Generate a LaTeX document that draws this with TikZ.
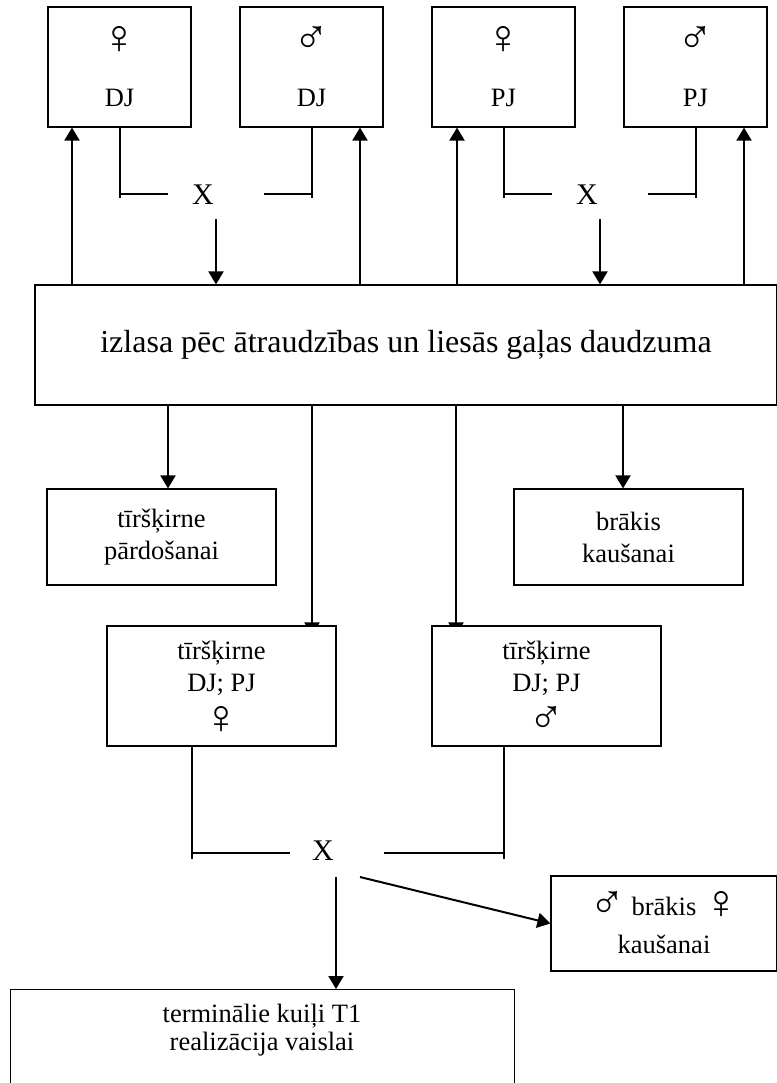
\documentclass[tikz,border=0pt]{standalone}
\usepackage{fontspec}
\setmainfont{Liberation Serif}
\usepackage{tikz}
\usetikzlibrary{arrows.meta,backgrounds}
\newcommand{\fsz}[2]{\fontsize{#1}{#2}\selectfont}
\newcommand{\sym}[1]{\raisebox{-3pt}[23pt][0pt]{\fontsize{48}{48}\selectfont#1}}
\tikzset{box/.style={draw,line width=1.2pt,fill=white,inner sep=0pt,align=center,font=\fsz{26.5}{32}},
  arr/.style={line width=2pt,-{Triangle[length=13pt,width=15pt]}},
  brk/.style={line width=1.3pt},
  cross/.style={inner sep=0pt,font=\fsz{30}{34}}}

\begin{document}
\begin{tikzpicture}[x=1pt,y=-1pt]
\useasboundingbox (0,0) rectangle (776,1083);
% top row
\foreach \n/\x/\s/\t in {f1/119.5/♀/DJ,m1/311.5/♂/DJ,f2/503.5/♀/PJ,m2/695.5/♂/PJ}{
  \node[box,minimum width=143,minimum height=120] (\n) at (\x,67) {\sym{\s}\\[24pt]\t};}
\node[box,minimum width=742,minimum height=120,font=\fsz{32}{36}] (sel) at (406,345) {izlasa pēc ātraudzības un liesās gaļas daudzuma};
% middle
\node[box,minimum width=229,minimum height=96] (pard) at (161.5,537) {tīršķirne\\pārdošanai};
\node[box,minimum width=229,minimum height=96] (brak) at (628.5,537) {brākis\\kaušanai};
\node[box,minimum width=229,minimum height=120] (tf) at (221.5,686) {tīršķirne\\DJ; PJ\\[7pt]\sym{♀}};
\node[box,minimum width=229,minimum height=120] (tm) at (546.5,686) {tīršķirne\\DJ; PJ\\[7pt]\sym{♂}};
% bottom
\node[box,minimum width=226,minimum height=95] (brak2) at (664,923.5) {\sym{♂} brākis \sym{♀}\\[6pt]kaušanai};
\node[box,minimum width=504,minimum height=140,anchor=north west] (term) at (10,989) {};
\node[align=center,inner sep=0pt,font=\fsz{26.5}{28}] (termtxt) at (262,1030) {terminālie kuiļi T1\\realizācija vaislai};

\foreach \a/\b/\xl/\xr/\cx/\ar in {f1/m1/120/312/203/216,f2/m2/504/696/587/600}{
  \draw[brk] (\a.south -| \xl,0) -- (\xl,198) (\xl,194) -- ++(48,0);
  \draw[brk] (\b.south -| \xr,0) -- (\xr,198) (\xr,194) -- ++(-48,0);
  \node[cross] (x\a) at (\cx,195) {X};
  \coordinate (d\a) at (\ar,219);
  \draw[arr] (d\a) -- (sel.north -| d\a);}
\foreach \n/\x in {f1/72,m1/360,f2/457,m2/744}
  \draw[arr] (sel.north -| \x,0) -- (\n.south -| \x,0);

\draw[arr] (sel.south -| 168,0) -- (pard.north -| 168,0);
\draw[arr] (sel.south -| 623,0) -- (brak.north -| 623,0);
\begin{scope}[on background layer]
\draw[arr,shorten >=-10pt] (sel.south -| 312,0) -- (tf.north -| 312,0);
\draw[arr,shorten >=-10pt] (sel.south -| 456,0) -- (tm.north -| 456,0);
\end{scope}

\draw[brk] (tf.south -| 192,0) -- (192,859) (192,853) -- (290,853);
\draw[brk] (tm.south -| 504,0) -- (504,859) (504,853) -- (384,853);
\node[cross] (xb) at (323,851) {X};
\coordinate (d1) at (336,877);
\coordinate (d2) at (360,877);
\draw[arr] (d1) -- (term.north -| d1);
\draw[arr] (d2) -- (brak2.west);
\end{tikzpicture}
\end{document}
